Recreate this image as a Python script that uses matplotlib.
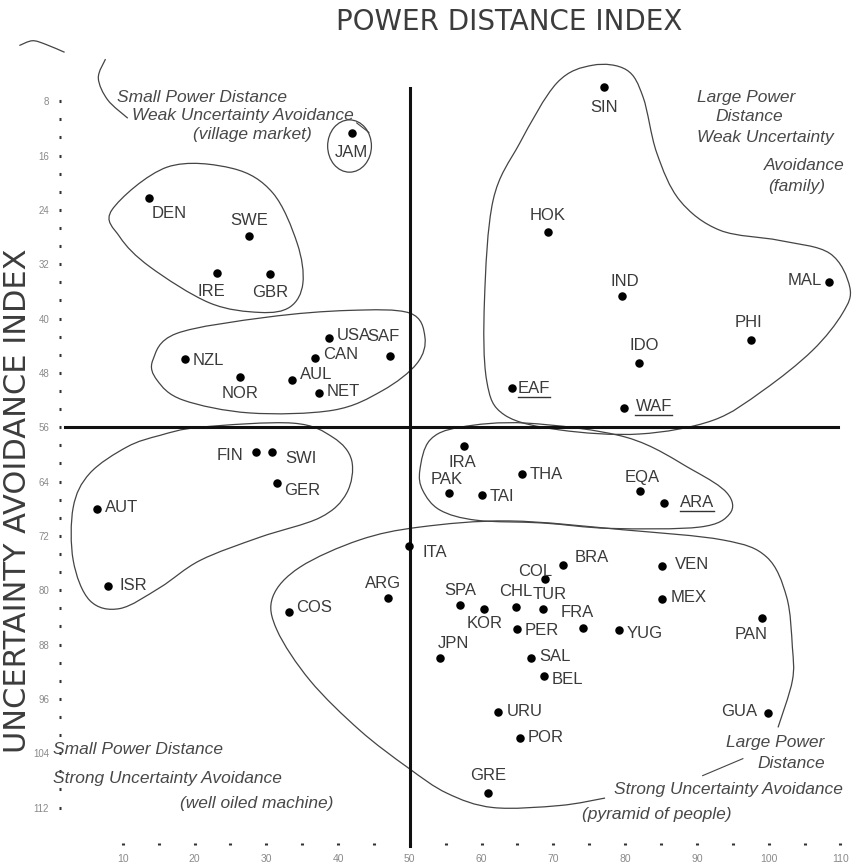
import numpy as np
import matplotlib
matplotlib.use("Agg")
import matplotlib.pyplot as plt
from matplotlib.path import Path
from matplotlib.patches import PathPatch, Ellipse
from matplotlib.ticker import FixedLocator

plt.rcParams['font.family'] = ['Liberation Sans', 'DejaVu Sans']

# country codes with power distance (x) and uncertainty avoidance (y)
countries = ['SIN', 'JAM', 'DEN', 'SWE', 'IRE', 'GBR', 'USA', 'CAN', 'SAF', 'NZL', 'NOR', 'AUL', 'NET',
             'HOK', 'IND', 'MAL', 'PHI', 'IDO', 'EAF', 'WAF',
             'FIN', 'SWI', 'GER', 'AUT', 'ISR', 'COS', 'ARG', 'ITA',
             'IRA', 'PAK', 'TAI', 'THA', 'EQA', 'ARA',
             'SPA', 'KOR', 'CHL', 'TUR', 'COL', 'BRA', 'FRA', 'PER', 'JPN', 'SAL', 'BEL',
             'URU', 'POR', 'GRE', 'VEN', 'MEX', 'YUG', 'PAN', 'GUA']
pdi = [77.0, 41.9, 13.6, 27.6, 23.1, 30.5, 38.7, 36.8, 47.2, 18.7, 26.3, 33.6, 37.3,
       69.2, 79.5, 108.4, 97.5, 81.9, 64.2, 79.9,
       28.6, 30.8, 31.5, 6.4, 7.9, 33.1, 46.9, 49.9,
       57.5, 55.4, 60.0, 65.6, 82.0, 85.4,
       57.0, 60.4, 64.8, 68.5, 68.9, 71.4, 74.1, 64.9, 54.2, 66.9, 68.7,
       62.3, 65.3, 60.9, 85.2, 85.2, 79.1, 99.0, 99.9]
uai = [5.9, 12.7, 22.3, 27.9, 33.3, 33.5, 42.9, 45.8, 45.5, 46.0, 48.6, 49.1, 51.0,
       27.3, 36.7, 34.6, 43.2, 46.6, 50.3, 53.1,
       59.7, 59.7, 64.2, 68.1, 79.4, 83.2, 81.2, 73.5,
       58.7, 65.7, 66.0, 62.9, 65.4, 67.2,
       82.2, 82.7, 82.5, 82.8, 78.4, 76.3, 85.5, 85.7, 90.0, 90.0, 92.7,
       98.0, 101.7, 109.9, 76.5, 81.3, 85.9, 84.1, 98.1]
underlined = ['EAF', 'WAF', 'ARA']

x_ticks = [10, 20, 30, 40, 50, 60, 70, 80, 90, 100, 110]
y_ticks = [8, 16, 24, 32, 40, 48, 56, 64, 72, 80, 88, 96, 104, 112]

# hand drawn cluster outlines (data coordinates)
cluster_nordic = [(8.5, 24.0), (16.2, 17.7), (25.3, 17.9), (30.9, 21.5), (34.3, 28.9), (35.1, 34.8),
                  (33.3, 38.3), (29.1, 39.1), (22.1, 37.7), (13.8, 32.4), (9.6, 28.0)]
cluster_anglo = [(14.2, 46.1), (17.5, 42.2), (30.1, 39.8), (41.6, 38.8), (50.0, 39.2), (52.1, 42.7),
                 (51.0, 46.6), (46.2, 50.6), (39.3, 53.5), (27.7, 53.9), (18.4, 52.0), (14.8, 49.1)]
cluster_asia = [(61.6, 22.6), (65.3, 14.2), (70.5, 5.3), (75.5, 2.7), (80.2, 3.4), (82.5, 7.4),
                (84.4, 15.6), (87.6, 22.6), (93.2, 27.0), (101.5, 28.5), (108.5, 30.4), (111.3, 35.4),
                (110.3, 39.2), (106.1, 44.7), (99.2, 50.6), (92.2, 55.0), (82.0, 57.0), (70.9, 56.4),
                (63.2, 54.2), (60.7, 49.1), (60.4, 37.3)]
cluster_german = [(20.8, 56.0), (33.7, 55.4), (39.3, 57.5), (41.9, 60.9), (41.2, 65.7), (37.5, 69.3),
                  (29.1, 72.2), (20.8, 75.6), (15.2, 79.6), (9.6, 82.7), (5.4, 81.5), (3.1, 75.6),
                  (3.1, 67.8), (5.4, 62.8), (10.6, 58.9), (15.2, 57.2)]
cluster_mideast = [(51.4, 62.3), (52.8, 57.9), (57.0, 56.0), (66.3, 55.4), (80.2, 57.5), (89.4, 62.3),
                   (94.2, 65.7), (94.6, 68.7), (90.4, 70.7), (77.9, 70.9), (68.5, 70.1), (59.3, 69.7),
                   (54.2, 68.2), (51.8, 65.3)]
cluster_latin = [(101.3, 100.2), (103.3, 93.3), (103.3, 88.4), (102.5, 81.0), (99.7, 75.1), (93.6, 72.6),
                 (79.7, 71.1), (63.9, 69.8), (51.4, 70.7), (43.0, 72.6), (34.7, 76.6), (30.9, 81.0),
                 (31.5, 85.9), (36.1, 93.3), (43.0, 100.6), (49.7, 106.1), (55.2, 109.9), (61.6, 112.0),
                 (70.9, 111.7), (77.2, 110.6)]
bracket_tl = [(7.6, 1.8), (6.6, 4.6), (7.9, 7.8), (10.7, 10.5)]
squiggle_tl = [(-4.4, -0.2), (-2.6, -0.9), (-0.8, -0.4), (1.9, 0.8)]

# label offsets in pixels (right, down) and alignment
label_pos = {
    'SIN': (0, 21, 'center'), 'JAM': (0, 19, 'center'), 'DEN': (3, 15, 'left'), 'SWE': (0, -16, 'center'),
    'IRE': (-5, 18, 'center'), 'GBR': (0, 18, 'center'), 'USA': (8, -3, 'left'), 'CAN': (8, -3, 'left'),
    'SAF': (-6, -19, 'center'), 'NZL': (7, 1, 'left'), 'NOR': (0, 17, 'center'), 'AUL': (8, -6, 'left'),
    'NET': (8, -2, 'left'), 'HOK': (0, -17, 'center'), 'IND': (3, -15, 'center'), 'MAL': (-7, -1, 'right'),
    'PHI': (-2, -18, 'center'), 'IDO': (5, -18, 'center'), 'EAF': (6, 0, 'left'), 'WAF': (11, -1, 'left'),
    'FIN': (-13, 3, 'right'), 'SWI': (13, 6, 'left'), 'GER': (7, 8, 'left'), 'AUT': (8, -2, 'left'),
    'ISR': (12, -1, 'left'), 'COS': (8, -4, 'left'), 'ARG': (-5, -15, 'center'), 'ITA': (13, 6, 'left'),
    'IRA': (-1, 17, 'center'), 'PAK': (-2, -14, 'center'), 'TAI': (8, 1, 'left'), 'THA': (8, 0, 'left'),
    'EQA': (3, -14, 'center'), 'ARA': (16, -1, 'left'), 'SPA': (0, -15, 'center'), 'KOR': (0, 15, 'center'),
    'CHL': (0, -16, 'center'), 'TUR': (7, -15, 'center'), 'COL': (-10, -8, 'center'), 'BRA': (11, -8, 'left'),
    'FRA': (-6, -15, 'center'), 'PER': (8, 2, 'left'), 'JPN': (13, -15, 'center'), 'SAL': (8, -2, 'left'),
    'BEL': (8, 3, 'left'), 'URU': (9, -1, 'left'), 'POR': (8, 0, 'left'), 'GRE': (0, -18, 'center'),
    'VEN': (12, -2, 'left'), 'MEX': (8, -2, 'left'), 'YUG': (8, 3, 'left'), 'PAN': (-10, 16, 'center'),
    'GUA': (-11, -2, 'right'),
}


def smooth_path(pts, closed=True):
    # catmull-rom through the points, turned into cubic bezier segments
    pts = np.asarray(pts, dtype=float)
    n = len(pts)
    verts = [pts[0]]
    codes = [Path.MOVETO]
    segs = n if closed else n - 1
    for i in range(segs):
        p0 = pts[(i - 1) % n] if (closed or i > 0) else pts[0]
        p1 = pts[i % n]
        p2 = pts[(i + 1) % n]
        p3 = pts[(i + 2) % n] if (closed or i + 2 < n) else pts[-1]
        verts += [p1 + (p2 - p0) / 6, p2 - (p3 - p1) / 6, p2]
        codes += [Path.CURVE4] * 3
    return Path(verts, codes)


fig = plt.figure(figsize=(8.62, 8.68), dpi=100)
ax = fig.add_axes([0, 0, 1, 1])
ax.set_xlim(-7.1, 113.0)
ax.set_ylim(120.9, -6.9)

# axes: only dotted ticks, no visible spines
for s in ['top', 'right']:
    ax.spines[s].set_visible(False)
ax.spines['left'].set_position(('data', 1.25))
ax.spines['bottom'].set_position(('data', 117.3))
ax.spines['left'].set_color('none')
ax.spines['bottom'].set_color('none')
ax.xaxis.set_major_locator(FixedLocator(x_ticks))
ax.yaxis.set_major_locator(FixedLocator(y_ticks))
ax.xaxis.set_minor_locator(FixedLocator(np.arange(15, 110, 10)))
ax.yaxis.set_minor_locator(FixedLocator(np.arange(8, 112.5, 8 / 3)))
ax.tick_params(which='both', direction='inout', length=1.6, width=2.2, color='#333333')
ax.tick_params(axis='y', labelsize=7, labelcolor='#8a8a8a', pad=7)
ax.tick_params(axis='x', labelsize=7.5, labelcolor='#8a8a8a', pad=7)

# crosshair
ax.plot([2.0, 109.6], [56, 56], color='#111111', lw=2.2, zorder=2)
ax.plot([50, 50], [6.1, 117.6], color='#111111', lw=2.2, zorder=2)

# cluster outlines
line_kw = dict(fill=False, lw=0.9, ec='#444444', zorder=1)
for pts in [cluster_nordic, cluster_anglo, cluster_asia, cluster_german, cluster_mideast]:
    ax.add_patch(PathPatch(smooth_path(pts), **line_kw))
for pts in [cluster_latin, bracket_tl, squiggle_tl]:
    ax.add_patch(PathPatch(smooth_path(pts, closed=False), **line_kw))
ax.add_patch(Ellipse((41.6, 14.6), 6.1, 7.7, **line_kw))
ax.plot([42.6, 44.3], [11.2, 12.6], color='#444444', lw=0.8)
ax.plot([90.8, 96.4], [107.3, 104.8], color='#444444', lw=0.8)

# countries
ax.scatter(pdi, uai, s=26, color='black', zorder=3)
labels = {}
for name, x, y in zip(countries, pdi, uai):
    dx, dy, ha = label_pos[name]
    labels[name] = ax.annotate(name, (x, y), xytext=(dx, -dy), textcoords='offset pixels',
                               ha=ha, va='center', fontsize=12, color='#3a3a3a')

# quadrant captions
cap = dict(fontstyle='italic', fontsize=12.5, color='#484848', va='center')
ax.text(9.2, 7.4, 'Small Power Distance', ha='left', **cap)
ax.text(11.3, 10.1, 'Weak Uncertainty Avoidance', ha='left', **cap)
ax.text(28.1, 12.9, '(village market)', ha='center', **cap)
ax.text(90.0, 7.4, 'Large Power', ha='left', **cap)
ax.text(92.6, 10.3, 'Distance', ha='left', **cap)
ax.text(90.0, 13.4, 'Weak Uncertainty', ha='left', **cap)
ax.text(110.6, 17.4, 'Avoidance', ha='right', **cap)
ax.text(99.9, 20.6, '(family)', ha='left', **cap)
ax.text(0.3, 103.4, 'Small Power Distance', ha='left', **cap)
ax.text(0.3, 107.7, 'Strong Uncertainty Avoidance', ha='left', **cap)
ax.text(39.3, 111.4, '(well oiled machine)', ha='right', **cap)
ax.text(107.8, 102.4, 'Large Power', ha='right', **cap)
ax.text(107.8, 105.5, 'Distance', ha='right', **cap)
ax.text(110.3, 109.3, 'Strong Uncertainty Avoidance', ha='right', **cap)
ax.text(84.4, 113.0, '(pyramid of people)', ha='center', **cap)

# titles
title_kw = dict(ha='center', va='center', color='#3c3c3c', family=['DejaVu Sans'])
ax.text(63.9, -3.6, 'POWER DISTANCE INDEX', fontsize=20, **title_kw)
ax.text(-4.6, 66.8, 'UNCERTAINTY AVOIDANCE INDEX', rotation=90, fontsize=22, **title_kw)

# underline the regional groupings
fig.canvas.draw()
inv = ax.transData.inverted()
for name in underlined:
    bb = labels[name].get_window_extent()
    (x0, y0), (x1, _) = inv.transform([(bb.x0, bb.y0 - 1), (bb.x1, bb.y0 - 1)])
    ax.plot([x0, x1], [y0, y0], color='#333333', lw=1.0)

fig.savefig('out.png', dpi=100)
